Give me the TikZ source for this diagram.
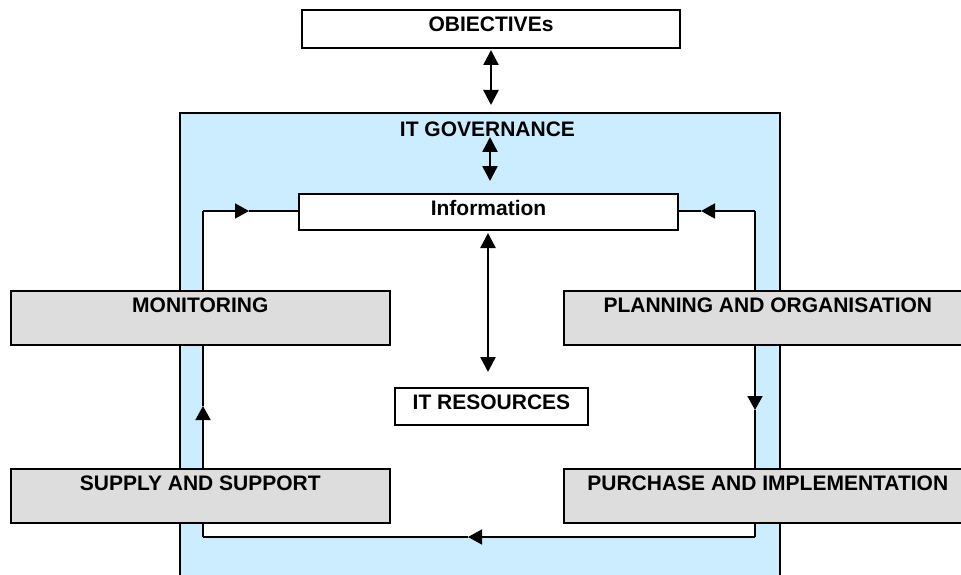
\documentclass[tikz,border=0pt]{standalone}
\usepackage{fontspec}
\setmainfont{Liberation Sans}
\usetikzlibrary{arrows.meta,calc}
\definecolor{govblue}{RGB}{204,236,255}
\definecolor{boxgray}{RGB}{221,221,221}
\begin{document}
\begin{tikzpicture}[x=1pt,y=-1pt,
 lbl/.style={font=\bfseries\fontsize{21}{25}\selectfont},
 txtbox/.style={lbl, draw=black, line width=2pt, fill=white, inner xsep=0pt, inner ysep=0pt, text height=22pt, anchor=north west},
 graybox/.style={txtbox, fill=boxgray, line width=1.6pt, text depth=32pt},
 flowline/.style={line width=1.6pt},
 tipr/.style={-{Triangle[length=14pt,width=15pt]}},
 dbl/.style={{Triangle[length=15pt,width=15pt]}-{Triangle[length=15pt,width=15pt]}, line width=2.4pt}]
\useasboundingbox (0,0) rectangle (961,575);
\clip (0,0) rectangle (961,575);
% governance area
\node[draw, line width=2pt, fill=govblue, minimum width=600pt, minimum height=500pt, anchor=north west, inner sep=0pt] (gov) at (179,112) {};
\node[lbl, anchor=base] (govlbl) at (487.5,136) {IT GOVERNANCE};
% white inner loop area
\node[fill=white, minimum width=552pt, minimum height=326pt, anchor=north west, inner sep=0pt] (inner) at (203,211) {};
% loop corners and arrow tips
\coordinate (tl) at (203,211);
\coordinate (tr) at (755,211);
\coordinate (br) at (755,537);
\coordinate (bl) at (203,537);
\coordinate (aTL) at (249,211);
\coordinate (aTR) at (701,211);
\coordinate (aR) at (755,410);
\coordinate (aB) at (468,537);
\coordinate (aL) at (203,406);
% information box
\node[txtbox, minimum width=379pt, text depth=14.5pt] (info) at (298,192.5) {Information};
% loop lines
\draw[flowline, tipr] (tl) -- (aTL);
\draw[flowline] (aTL) -- (info.west |- tl);
\draw[flowline, tipr] (tr) -- (aTR);
\draw[flowline] (aTR) -- (info.east |- tr);
\draw[flowline, tipr] (tr) -- (aR);
\draw[flowline] (aR) -- (br);
\draw[flowline, tipr] (br) -- (aB);
\draw[flowline] (aB) -- (bl);
\draw[flowline, tipr] (bl) -- (aL);
\draw[flowline] (aL) -- (tl);
% gray boxes
\node[graybox, minimum width=379pt] (mon) at (10,290) {MONITORING};
\node[graybox, minimum width=408pt] (plan) at (563,290) {PLANNING AND ORGANISATION};
\node[graybox, minimum width=379pt] (sup) at (10,468) {SUPPLY AND SUPPORT};
\node[graybox, minimum width=408pt] (pur) at (563,468) {PURCHASE AND IMPLEMENTATION};
% IT resources
\node[txtbox, minimum width=193pt, text depth=15.5pt] (res) at (394,386.5) {IT RESOURCES};
% objectives
\node[txtbox, minimum width=378pt, text height=21.5pt, text depth=16.5pt] (obj) at (301,9.3) {OBIECTIVEs};
% double arrows
\coordinate (d1t) at (491,50);
\coordinate (d1b) at (491,105);
\coordinate (d2t) at (490,137);
\coordinate (d2b) at (490,181);
\coordinate (d3t) at (488,233);
\coordinate (d3b) at (488,372);
\draw[dbl] (d1t) -- (d1b);
\draw[dbl] (d2t) -- (d2b);
\draw[dbl] (d3t) -- (d3b);
\end{tikzpicture}
\end{document}
